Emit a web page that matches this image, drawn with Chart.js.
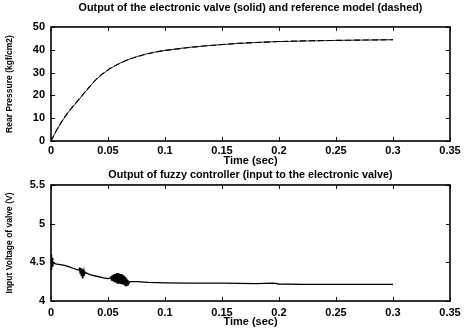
<!DOCTYPE html>
<html>
<head>
<meta charset="utf-8">
<script src="https://cdn.jsdelivr.net/npm/chart.js@4.4.0/dist/chart.umd.min.js"></script>
<style>
  html, body { margin: 0; padding: 0; background: #ffffff; }
  #wrap { position: relative; width: 473px; height: 332px; overflow: hidden; background: #fff; }
  .box { position: absolute; left: 0; width: 473px; height: 168px; }
  #b1 { top: 0; }
  #b2 { top: 164px; }
</style>
</head>
<body>
<div id="wrap">
  <div class="box" id="b1"><canvas id="c1"></canvas></div>
  <div class="box" id="b2"><canvas id="c2"></canvas></div>
</div>
<script>
// ---- data ----
const xTicks = [0, 0.05, 0.1, 0.15, 0.2, 0.25, 0.3, 0.35];
const xTickLabels = ["0", "0.05", "0.1", "0.15", "0.2", "0.25", "0.3", "0.35"];
const yTicksTop = [0, 10, 20, 30, 40, 50];
const yTickLabelsTop = ["0", "10", "20", "30", "40", "50"];
const yTicksBottom = [4, 4.5, 5, 5.5];
const yTickLabelsBottom = ["4", "4.5", "5", "5.5"];

const timePressure = [0, 0.005, 0.01, 0.015, 0.02, 0.025, 0.03, 0.035, 0.04, 0.05, 0.06, 0.07, 0.08, 0.09, 0.1, 0.11, 0.12, 0.14, 0.16, 0.18, 0.2, 0.22, 0.25, 0.28, 0.3];
const pressureRef = [0, 4.8, 9.0, 12.6, 15.6, 18.6, 21.6, 24.5, 27.2, 31.2, 34.0, 36.1, 37.6, 38.8, 39.7, 40.3, 40.9, 41.9, 42.7, 43.2, 43.6, 43.9, 44.1, 44.3, 44.4];
const pressureValve = [0, 4.7, 8.8, 12.5, 15.5, 18.5, 21.5, 24.4, 27.1, 31.1, 34.0, 36.1, 37.7, 38.9, 39.7, 40.4, 41.0, 41.9, 42.6, 43.2, 43.6, 43.8, 44.1, 44.3, 44.4];

const timeVoltage = [0, 0.0005, 0.001, 0.0015, 0.002, 0.004, 0.008, 0.012, 0.016, 0.02, 0.024,
  0.025, 0.0255, 0.026, 0.0265, 0.027, 0.0275, 0.028, 0.0285, 0.029, 0.0295, 0.03,
  0.034, 0.04, 0.046, 0.05, 0.052,
  0.0525, 0.053, 0.0535, 0.054, 0.0545, 0.055, 0.0555, 0.056, 0.0565, 0.057, 0.0575, 0.058, 0.0585, 0.059, 0.0595, 0.06,
  0.0605, 0.061, 0.0615, 0.062, 0.0625, 0.063, 0.0635, 0.064, 0.0645, 0.065, 0.0655, 0.066, 0.0665, 0.067, 0.0675, 0.068, 0.069,
  0.07, 0.076, 0.085, 0.1, 0.12, 0.15, 0.18, 0.195, 0.2, 0.22, 0.25, 0.28, 0.3];
const voltage = [4.60, 4.40, 4.56, 4.44, 4.50, 4.48, 4.47, 4.46, 4.44, 4.42, 4.40,
  4.42, 4.36, 4.43, 4.33, 4.42, 4.30, 4.41, 4.32, 4.39, 4.35, 4.37,
  4.34, 4.32, 4.30, 4.29, 4.30,
  4.32, 4.27, 4.33, 4.26, 4.34, 4.25, 4.35, 4.24, 4.35, 4.24, 4.36, 4.23, 4.36, 4.23, 4.36, 4.23,
  4.35, 4.22, 4.35, 4.22, 4.34, 4.21, 4.33, 4.21, 4.32, 4.20, 4.31, 4.20, 4.29, 4.21, 4.27, 4.22, 4.25,
  4.25, 4.25, 4.24, 4.235, 4.23, 4.23, 4.225, 4.23, 4.22, 4.215, 4.215, 4.215, 4.215];

// ---- helpers ----
const FONT = "'Liberation Sans', Arial, sans-serif";
const toXY = (xs, ys) => xs.map((x, i) => ({ x: x, y: ys[i] }));

const frameTicks = {
  id: 'frameTicks',
  afterDraw(chart) {
    const { ctx, chartArea: a, scales } = chart;
    ctx.save();
    ctx.strokeStyle = '#000';
    ctx.lineWidth = 1;
    const L = 4;
    scales.x.ticks.forEach(t => {
      const px = Math.round(scales.x.getPixelForValue(t.value)) + 0.5;
      ctx.beginPath();
      ctx.moveTo(px, a.bottom); ctx.lineTo(px, a.bottom - L);
      ctx.moveTo(px, a.top); ctx.lineTo(px, a.top + L);
      ctx.stroke();
    });
    scales.y.ticks.forEach(t => {
      const py = Math.round(scales.y.getPixelForValue(t.value)) + 0.5;
      ctx.beginPath();
      ctx.moveTo(a.left, py); ctx.lineTo(a.left + L, py);
      ctx.moveTo(a.right, py); ctx.lineTo(a.right - L, py);
      ctx.stroke();
    });
    ctx.lineWidth = 1.6;
    ctx.strokeRect(a.left, a.top, a.right - a.left, a.bottom - a.top);
    ctx.restore();
  }
};

function makeOptions(cfg) {
  return {
    responsive: true,
    maintainAspectRatio: false,
    animation: false,
    events: [],
    layout: { padding: { left: 0, right: 23, top: 0, bottom: 0 } },
    plugins: {
      legend: { display: false },
      tooltip: { enabled: false },
      title: {
        display: true,
        fullSize: false,
        text: cfg.title,
        color: '#000',
        font: { family: FONT, size: 10.8, weight: 'bold', lineHeight: 1.2 },
        padding: cfg.titlePad
      }
    },
    scales: {
      x: {
        type: 'linear',
        min: 0, max: 0.35,
        afterBuildTicks: s => { s.ticks = xTicks.map(v => ({ value: v })); },
        afterFit: s => { s.height = cfg.xHeight; },
        grid: { display: false, drawTicks: false },
        border: { display: false },
        ticks: {
          color: '#000',
          padding: cfg.xTickPad,
          maxRotation: 0,
          autoSkip: false,
          font: { family: FONT, size: 11, weight: 'bold' },
          callback: (v, i) => xTickLabels[i]
        },
        title: {
          display: true,
          text: 'Time (sec)',
          color: '#000',
          font: { family: FONT, size: 11, weight: 'bold', lineHeight: 1.2 },
          padding: { top: 0, bottom: cfg.xTitlePad }
        }
      },
      y: {
        type: 'linear',
        min: cfg.yMin, max: cfg.yMax,
        afterBuildTicks: s => { s.ticks = cfg.yTicks.map(v => ({ value: v })); },
        afterFit: s => { s.width = 51; },
        grid: { display: false, drawTicks: false },
        border: { display: false },
        ticks: {
          color: '#000',
          padding: 6,
          autoSkip: false,
          font: { family: FONT, size: 11, weight: 'bold' },
          callback: (v, i) => cfg.yLabels[i]
        },
        title: {
          display: true,
          text: cfg.yTitle,
          color: '#000',
          font: { family: FONT, size: 8.5, weight: 'bold', lineHeight: 1.2 },
          padding: { top: 5, bottom: 0 }
        }
      }
    }
  };
}

new Chart(document.getElementById('c1'), {
  type: 'line',
  data: {
    datasets: [
      {
        label: 'Reference model',
        data: toXY(timePressure, pressureRef),
        borderColor: '#000',
        borderWidth: 1.1,
        borderDash: [6, 3],
        pointRadius: 0,
        fill: false,
        cubicInterpolationMode: 'monotone'
      },
      {
        label: 'Electronic valve',
        data: toXY(timePressure, pressureValve),
        borderColor: '#222',
        borderWidth: 1,
        pointRadius: 0,
        fill: false,
        cubicInterpolationMode: 'monotone'
      }
    ]
  },
  options: makeOptions({
    title: 'Output of the electronic valve (solid) and reference model (dashed)',
    titlePad: { top: 2, bottom: 12 },
    xHeight: 27, xTickPad: 3, xTitlePad: 0,
    yMin: 0, yMax: 50, yTicks: yTicksTop, yLabels: yTickLabelsTop,
    yTitle: 'Rear Pressure (kgf/cm2)'
  }),
  plugins: [frameTicks]
});

new Chart(document.getElementById('c2'), {
  type: 'line',
  data: {
    datasets: [
      {
        label: 'Fuzzy controller output',
        data: toXY(timeVoltage, voltage),
        borderColor: '#000',
        borderWidth: 1.3,
        pointRadius: 0,
        fill: false,
        tension: 0
      }
    ]
  },
  options: makeOptions({
    title: 'Output of fuzzy controller (input to the electronic valve)',
    titlePad: { top: 4.5, bottom: 3.5 },
    xHeight: 31, xTickPad: 5, xTitlePad: 3.4,
    yMin: 4, yMax: 5.5, yTicks: yTicksBottom, yLabels: yTickLabelsBottom,
    yTitle: 'Input Voltage of valve (V)'
  }),
  plugins: [frameTicks]
});
</script>
</body>
</html>
